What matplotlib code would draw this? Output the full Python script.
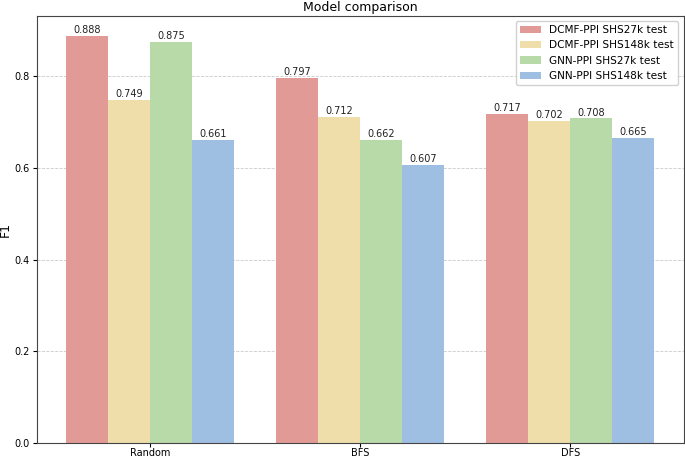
import numpy as np
import matplotlib
matplotlib.use("Agg")
import matplotlib.pyplot as plt

# data
splits = ["Random", "BFS", "DFS"]
series_names = ["DCMF-PPI SHS27k test", "DCMF-PPI SHS148k test",
                "GNN-PPI SHS27k test", "GNN-PPI SHS148k test"]
dcmf_27k = [0.888, 0.797, 0.717]
dcmf_148k = [0.749, 0.712, 0.702]
gnn_27k = [0.875, 0.662, 0.708]
gnn_148k = [0.661, 0.607, 0.665]

colors = ["#E29A97", "#EFDEA9", "#B8DAA9", "#9EBEE2"]
all_vals = [dcmf_27k, dcmf_148k, gnn_27k, gnn_148k]

fig, ax = plt.subplots(figsize=(6.85, 4.59), dpi=100)
fig.subplots_adjust(left=0.054, right=0.998, bottom=0.035, top=0.966)

x = np.arange(len(splits))
w = 0.2
for i, (vals, name, c) in enumerate(zip(all_vals, series_names, colors)):
    pos = x + (i - 1.5) * w
    bars = ax.bar(pos, vals, w, color=c, label=name, zorder=2)
    for b, v in zip(bars, vals):
        ax.text(b.get_x() + b.get_width() / 2, b.get_height() + 0.002, f"{v:.3f}",
                ha="center", va="bottom", fontsize=7, color="#222222")

ax.set_xticks(x)
ax.set_xticklabels(splits, fontsize=7)
ax.tick_params(axis="x", length=3, pad=1)
ax.tick_params(axis="y", labelsize=7, length=3, pad=2)
ax.set_yticks([0.0, 0.2, 0.4, 0.6, 0.8])
ax.set_ylabel("F1", fontsize=9, labelpad=2)
ax.set_title("Model comparison", fontsize=9, pad=3)
ax.grid(axis="y", linestyle="--", color="#cccccc", linewidth=0.6, zorder=0)
ax.set_axisbelow(True)
for s in ax.spines.values():
    s.set_color("#444444")
    s.set_linewidth(0.8)
ax.legend(fontsize=7.6, loc="upper right", framealpha=0.9)

plt.savefig("out.png", dpi=100, facecolor="white")
